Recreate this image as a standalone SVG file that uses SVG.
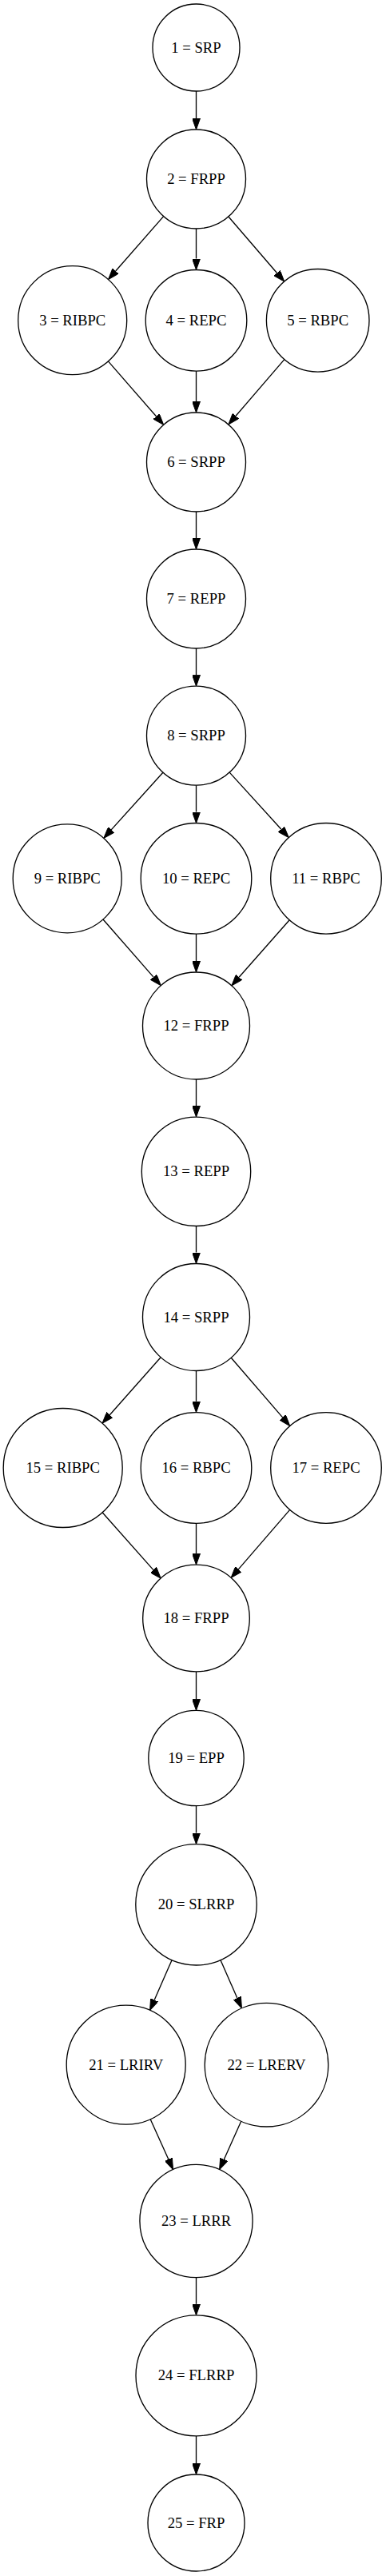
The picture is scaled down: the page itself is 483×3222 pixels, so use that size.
<svg xmlns="http://www.w3.org/2000/svg" width="483" height="3222" viewBox="0 0 483 3222">
<style>
.n circle{fill:#fff;stroke:#000;stroke-width:1.33}
.n text{font-family:"Liberation Serif","Times New Roman",serif;font-size:18.67px;text-anchor:middle;fill:#000}
#edges path{fill:none;stroke:#000;stroke-width:1.33;marker-end:url(#arr)}
</style>
<defs>
<marker id="arr" viewBox="0 0 14 10" refX="0" refY="5" markerWidth="14" markerHeight="10" orient="auto" markerUnits="userSpaceOnUse">
<path d="M0,0 L14,5 L0,10 z" fill="#000" stroke="#000" stroke-width="1"/>
</marker>
</defs>
<rect width="483" height="3222" fill="#fff"/>
<g id="edges">
<path d="M245.5,114 L245.5,148"/>
<path d="M204.6,270.6 L144.7,339.0"/>
<path d="M245.5,286 L245.5,323.5"/>
<path d="M285.9,271.0 L346.6,341.5"/>
<path d="M135.4,451.9 L195.5,520.8"/>
<path d="M245.5,464.1 L245.5,502"/>
<path d="M355.8,449.6 L295.0,520.3"/>
<path d="M245.5,640 L245.5,673"/>
<path d="M245.5,811 L245.5,844.2"/>
<path d="M203.9,966.2 L139.2,1037.9"/>
<path d="M245.5,982.2 L245.5,1015.5"/>
<path d="M287.2,966.1 L351.9,1037.2"/>
<path d="M129.0,1150.0 L192.1,1222.1"/>
<path d="M245.5,1168.1 L245.5,1202"/>
<path d="M362.2,1150.8 L299.1,1222.3"/>
<path d="M245.5,1350 L245.5,1383.1"/>
<path d="M245.5,1533.5 L245.5,1566.5"/>
<path d="M201.1,1697.7 L137.3,1769.7"/>
<path d="M245.5,1714.5 L245.5,1752.7"/>
<path d="M289.2,1698.2 L353.6,1772.9"/>
<path d="M128.1,1891.7 L191.9,1963.6"/>
<path d="M245.5,1905.3 L245.5,1943.2"/>
<path d="M362.7,1888.4 L298.3,1962.9"/>
<path d="M245.5,2090.8 L245.5,2125.3"/>
<path d="M245.5,2258.7 L245.5,2292.6"/>
<path d="M215.1,2451.6 L193.2,2501.6"/>
<path d="M275.9,2451.6 L296.8,2499.1"/>
<path d="M188.2,2650.7 L210.8,2700.8"/>
<path d="M301.7,2653.2 L280.3,2700.9"/>
<path d="M245.5,2848.6 L245.5,2881.8"/>
<path d="M245.5,3046.8 L245.5,3081"/>
</g>
<g id="node1" class="n"><circle cx="245.5" cy="59.5" r="54.5"/><text x="245.5" y="65.5">1 = SRP</text></g>
<g id="node2" class="n"><circle cx="245.5" cy="224" r="62"/><text x="245.5" y="230">2 = FRPP</text></g>
<g id="node3" class="n"><circle cx="90.7" cy="400.7" r="68"/><text x="90.7" y="406.7">3 = RIBPC</text></g>
<g id="node4" class="n"><circle cx="245.5" cy="400.8" r="63.3"/><text x="245.5" y="406.8">4 = REPC</text></g>
<g id="node5" class="n"><circle cx="397.7" cy="400.8" r="64.3"/><text x="397.7" y="406.8">5 = RBPC</text></g>
<g id="node6" class="n"><circle cx="245.5" cy="578" r="62"/><text x="245.5" y="584">6 = SRPP</text></g>
<g id="node7" class="n"><circle cx="245.5" cy="749" r="62"/><text x="245.5" y="755">7 = REPP</text></g>
<g id="node8" class="n"><circle cx="245.5" cy="920.2" r="62"/><text x="245.5" y="926.2">8 = SRPP</text></g>
<g id="node9" class="n"><circle cx="84.2" cy="1098.8" r="68"/><text x="84.2" y="1104.8">9 = RIBPC</text></g>
<g id="node10" class="n"><circle cx="245.5" cy="1098.8" r="69.3"/><text x="245.5" y="1104.8">10 = REPC</text></g>
<g id="node11" class="n"><circle cx="408" cy="1098.8" r="69.3"/><text x="408" y="1104.8">11 = RBPC</text></g>
<g id="node12" class="n"><circle cx="245.5" cy="1283" r="67"/><text x="245.5" y="1289">12 = FRPP</text></g>
<g id="node13" class="n"><circle cx="245.5" cy="1465.3" r="68.2"/><text x="245.5" y="1471.3">13 = REPP</text></g>
<g id="node14" class="n"><circle cx="245.5" cy="1647.5" r="67"/><text x="245.5" y="1653.5">14 = SRPP</text></g>
<g id="node15" class="n"><circle cx="78.7" cy="1836" r="74.5"/><text x="78.7" y="1842">15 = RIBPC</text></g>
<g id="node16" class="n"><circle cx="245.5" cy="1836" r="69.3"/><text x="245.5" y="1842">16 = RBPC</text></g>
<g id="node17" class="n"><circle cx="408" cy="1836" r="69.3"/><text x="408" y="1842">17 = REPC</text></g>
<g id="node18" class="n"><circle cx="245.5" cy="2024" r="66.8"/><text x="245.5" y="2030">18 = FRPP</text></g>
<g id="node19" class="n"><circle cx="245.5" cy="2199" r="59.7"/><text x="245.5" y="2205">19 = EPP</text></g>
<g id="node20" class="n"><circle cx="245.5" cy="2382.3" r="75.7"/><text x="245.5" y="2388.3">20 = SLRRP</text></g>
<g id="node21" class="n"><circle cx="157.7" cy="2582.7" r="74.5"/><text x="157.7" y="2588.7">21 = LRIRV</text></g>
<g id="node22" class="n"><circle cx="333.5" cy="2582.7" r="77.3"/><text x="333.5" y="2588.7">22 = LRERV</text></g>
<g id="node23" class="n"><circle cx="245.5" cy="2778" r="70.6"/><text x="245.5" y="2784">23 = LRRR</text></g>
<g id="node24" class="n"><circle cx="245.5" cy="2971.3" r="75.5"/><text x="245.5" y="2977.3">24 = FLRRP</text></g>
<g id="node25" class="n"><circle cx="245.5" cy="3155.5" r="60.5"/><text x="245.5" y="3161.5">25 = FRP</text></g>
</svg>
